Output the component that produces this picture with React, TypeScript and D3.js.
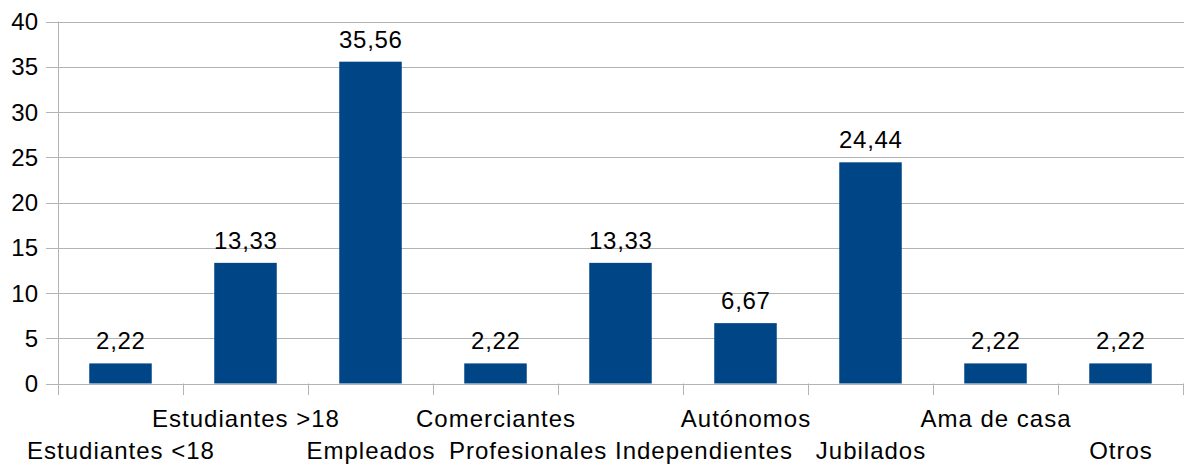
import React from "react";
import * as d3 from "d3";

const categories = [
  "Estudiantes <18",
  "Estudiantes >18",
  "Empleados",
  "Comerciantes",
  "Profesionales Independientes",
  "Autónomos",
  "Jubilados",
  "Ama de casa",
  "Otros",
];
const values = [2.22, 13.33, 35.56, 2.22, 13.33, 6.67, 24.44, 2.22, 2.22];
const yTicks = [0, 5, 10, 15, 20, 25, 30, 35, 40];

const W = 1184;
const H = 468;
const left = 58;
const right = 1183;
const top = 21.5;
const bottom = 383.5;
const FONT = "'Liberation Sans', Arial, sans-serif";
const GRID = "#b3b3b3";
const BAR = "#004586";

export default function App() {
  const x = d3.scaleBand<string>().domain(categories).range([left, right]).paddingInner(0.5).paddingOuter(0.25);
  const y = d3.scaleLinear().domain([0, 40]).range([bottom, top]);
  const step = (right - left) / categories.length;
  const fmt = (v: number) => v.toFixed(2).replace(".", ",");

  return (
    <div style={{ position: "fixed", left: 0, top: 0 }}>
      <svg width={W} height={H} style={{ display: "block" }} fontFamily={FONT}>
        <rect width={W} height={H} fill="#fff" />
        {yTicks.map((t) => (
          <g key={t}>
            <line x1={46} x2={W} y1={Math.round(y(t)) + 0.5} y2={Math.round(y(t)) + 0.5} stroke={GRID} strokeWidth={1} />
            <text x={38} y={y(t) + 8.5} textAnchor="end" fontSize={24} fill="#000">
              {t}
            </text>
          </g>
        ))}
        <line x1={left + 0.5} x2={left + 0.5} y1={top} y2={395} stroke={GRID} />
        {d3.range(categories.length + 1).map((i) => (
          <line
            key={i}
            x1={Math.round(left + i * step) + 0.5}
            x2={Math.round(left + i * step) + 0.5}
            y1={bottom}
            y2={395}
            stroke={GRID}
          />
        ))}
        {categories.map((c, i) => (
          <g key={c}>
            <rect x={x(c)} y={y(values[i])} width={x.bandwidth()} height={bottom - y(values[i])} fill={BAR} />
            <text
              x={x(c)! + x.bandwidth() / 2 + 0.35}
              y={y(values[i]) - 14}
              textAnchor="middle"
              fontSize={24}
              letterSpacing={0.7}
              fill="#000"
            >
              {fmt(values[i])}
            </text>
            <text
              x={x(c)! + x.bandwidth() / 2 + 0.5}
              y={i % 2 === 0 ? 459 : 427}
              textAnchor="middle"
              fontSize={24}
              letterSpacing={1}
              fill="#000"
            >
              {c}
            </text>
          </g>
        ))}
      </svg>
    </div>
  );
}
